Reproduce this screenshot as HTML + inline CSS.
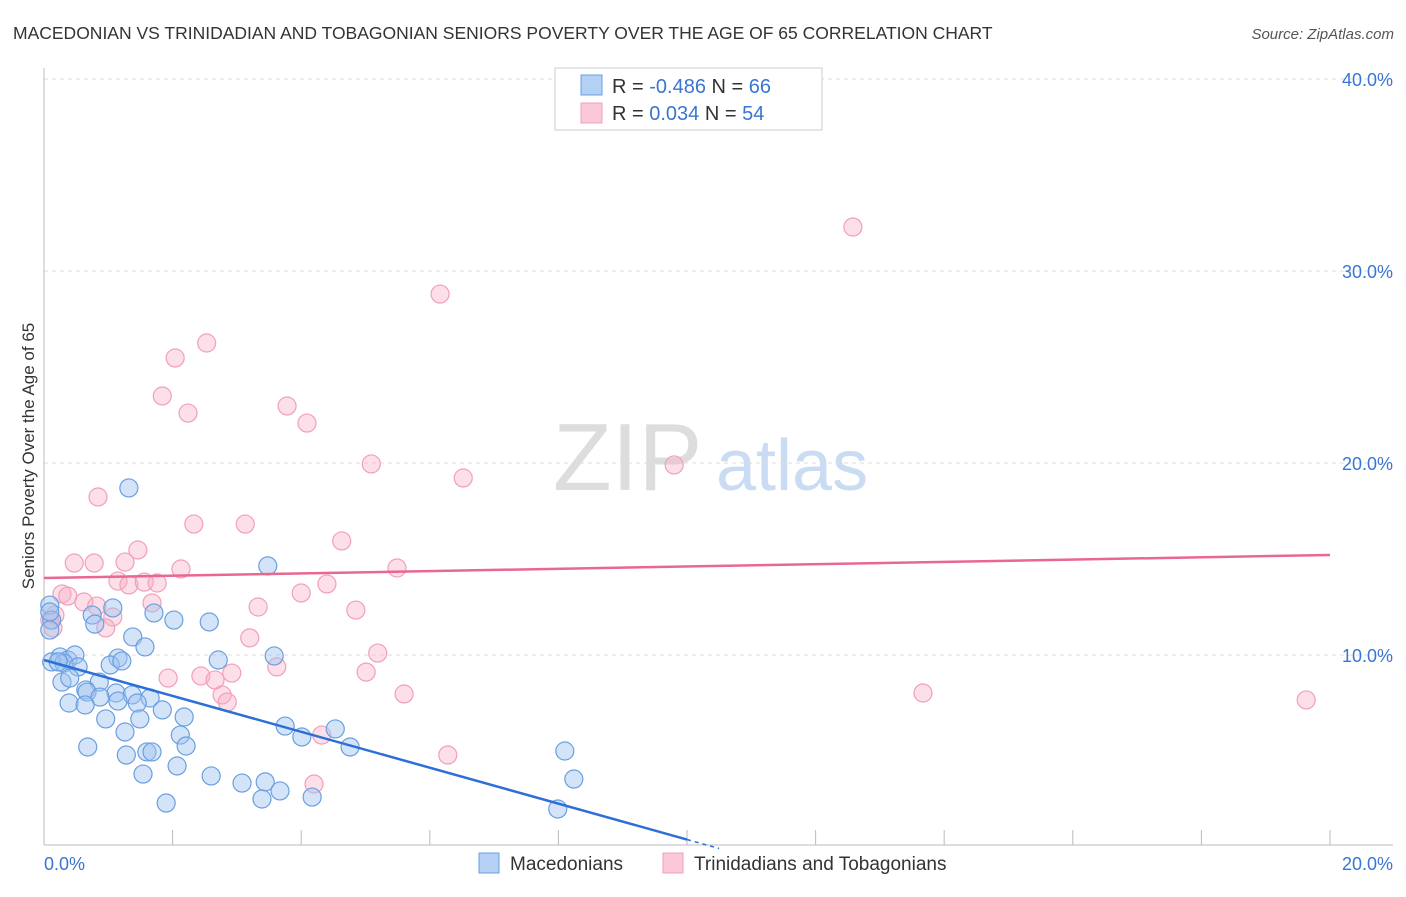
<!DOCTYPE html>
<html><head><meta charset="utf-8"><style>
body{margin:0;background:#fff;font-family:"Liberation Sans",sans-serif;}
svg text{font-family:"Liberation Sans",sans-serif;}
</style></head><body>
<svg id="chart" width="1406" height="892" viewBox="0 0 1406 892" xmlns="http://www.w3.org/2000/svg">
<text x="13" y="39" font-size="17.5" fill="#333">MACEDONIAN VS TRINIDADIAN AND TOBAGONIAN SENIORS POVERTY OVER THE AGE OF 65 CORRELATION CHART</text>
<text x="1394" y="39" font-size="15" fill="#555" font-style="italic" text-anchor="end">Source: ZipAtlas.com</text>
<g>
<text x="553" y="490" font-size="96" fill="#ddd" font-family="Liberation Serif">ZIP</text>
<text x="716" y="490" font-size="72" fill="#c9dcf3">atlas</text>
</g>
<g id="grid"></g>
<g id="axes"></g>
<g id="marks"></g>
<text transform="translate(34,456) rotate(-90)" font-size="17" fill="#333" text-anchor="middle">Seniors Poverty Over the Age of 65</text>
<g>
<rect x="555" y="68" width="267" height="62" fill="#fff" stroke="#ccc"/>
<rect x="581" y="75" width="21" height="20" fill="#b4d0f5" stroke="#6a9fe0"/>
<rect x="581" y="103" width="21" height="20" fill="#fbc8d8" stroke="#f0a0b8"/>
<text x="612" y="93" font-size="20" fill="#333">R = <tspan fill="#3a75d0">-0.486</tspan>   N = <tspan fill="#3a75d0">66</tspan></text>
<text x="612" y="120" font-size="20" fill="#333">R =  <tspan fill="#3a75d0"> 0.034</tspan>   N = <tspan fill="#3a75d0">54</tspan></text>
</g>
<g>
<rect x="479" y="853" width="20" height="20" fill="#b4d0f5" stroke="#6a9fe0"/>
<text x="510" y="870" font-size="19" fill="#333">Macedonians</text>
<rect x="663" y="853" width="20" height="20" fill="#fbc8d8" stroke="#f0a0b8"/>
<text x="694" y="870" font-size="19" fill="#333">Trinidadians and Tobagonians</text>
</g>
</svg>
<script>
const blueX=[1.32,3.48,0.09,0.12,0.09,1.07,0.75,0.79,1.71,2.02,2.57,1.38,1.57,0.25,0.37,0.48,0.12,0.31,0.53,1.15,1.03,1.21,2.71,3.58,0.28,0.40,0.86,0.65,1.12,0.67,0.87,1.37,1.65,0.39,0.64,1.15,1.45,1.84,0.96,1.49,2.18,1.26,2.12,3.75,4.53,4.01,0.68,1.28,1.60,1.68,2.21,4.76,8.10,1.54,2.07,2.60,3.08,3.44,3.67,3.39,4.17,1.90,8.24,7.99,0.09,0.22];
const blueY=[18.70,14.64,12.60,11.82,11.30,12.45,12.08,11.61,12.19,11.82,11.72,10.94,10.42,9.90,9.74,10.00,9.64,9.58,9.38,9.84,9.48,9.69,9.74,9.95,8.59,8.80,8.59,8.18,8.02,8.07,7.81,7.92,7.76,7.50,7.40,7.60,7.50,7.14,6.67,6.67,6.77,5.99,5.83,6.30,6.15,5.73,5.21,4.79,4.95,4.95,5.26,5.21,5.00,3.80,4.22,3.70,3.33,3.39,2.92,2.50,2.60,2.29,3.54,1.98,12.24,9.64];
const pinkX=[12.58,6.16,2.53,2.04,1.84,3.78,2.24,4.09,5.09,6.52,9.80,0.84,2.33,3.13,4.63,1.46,0.47,0.78,1.26,2.13,5.49,1.15,1.32,1.56,1.76,4.40,0.28,0.37,0.62,0.82,1.68,3.33,4.00,4.85,0.09,0.17,0.14,1.07,0.96,3.20,5.19,3.62,1.93,2.44,2.66,2.92,2.77,2.85,5.01,5.60,13.67,19.63,4.32,6.28,4.20];
const pinkY=[32.29,28.80,26.25,25.47,23.49,22.97,22.60,22.08,19.95,19.22,19.90,18.23,16.82,16.82,15.94,15.47,14.79,14.79,14.84,14.48,14.53,13.85,13.65,13.80,13.75,13.70,13.18,13.07,12.76,12.55,12.71,12.50,13.23,12.34,11.82,12.08,11.41,11.98,11.41,10.89,10.10,9.38,8.80,8.91,8.70,9.06,7.92,7.55,9.11,7.97,8.02,7.66,5.83,4.79,3.28];
const blueTrend=[9.74,-0.0487];
const pinkTrend=[14.01,0.06];
const yTicks=[10,20,30,40];
const yTickLabels=["10.0%","20.0%","30.0%","40.0%"];
const xTicks=[0,2,4,6,8,10,12,14,16,18,20];

const NS="http://www.w3.org/2000/svg";
const sx=v=>44+v*64.3, sy=v=>847-v*19.2;
function mk(tag,attrs,parent){const e=document.createElementNS(NS,tag);for(const k in attrs)e.setAttribute(k,attrs[k]);document.getElementById(parent).appendChild(e);return e;}
yTicks.forEach((t,i)=>{
 const g=mk('line',{x1:44,x2:1393,y1:sy(t),y2:sy(t),stroke:'#ddd','stroke-dasharray':'4,4'},'grid');
 
 
 const l=mk('text',{x:1393,y:sy(t)+7,'font-size':18,fill:'#3a75d0','text-anchor':'end'},'axes');
 l.textContent=yTickLabels[i];
 
 
});
const ya=mk('line',{x1:44,x2:44,y1:68,y2:845,stroke:'#bbb'},'axes');


const xa=mk('line',{x1:44,x2:1393,y1:845,y2:845,stroke:'#bbb'},'axes');


xTicks.forEach(t=>{
 const k=mk('line',{x1:sx(t),x2:sx(t),y1:830,y2:845,stroke:'#bbb'},'axes');
 
 
});
const x0=mk('text',{x:44,y:870,'font-size':18,fill:'#3a75d0'},'axes');x0.textContent='0.0%';


const x1=mk('text',{x:1393,y:870,'font-size':18,fill:'#3a75d0','text-anchor':'end'},'axes');x1.textContent='20.0%';


pinkX.forEach((x,i)=>{
 const c=mk('circle',{cx:sx(x),cy:sy(pinkY[i]),r:9,fill:'rgba(248,175,198,0.4)',stroke:'#f0a0b8','stroke-width':1.2},'marks');
 
 
});
blueX.forEach((x,i)=>{
 const c=mk('circle',{cx:sx(x),cy:sy(blueY[i]),r:9,fill:'rgba(160,196,240,0.45)',stroke:'#6a9fe0','stroke-width':1.2},'marks');
 
 
});
const pt=mk('line',{x1:sx(0),y1:sy(pinkTrend[0]),x2:sx(20),y2:sy(pinkTrend[0]+pinkTrend[1]*20),stroke:'#e8688f','stroke-width':2.5},'marks');


const xEnd=-blueTrend[0]/blueTrend[1]*0.94;
const bt=mk('line',{x1:sx(0),y1:sy(blueTrend[0]),x2:sx(10),y2:sy(blueTrend[0]+blueTrend[1]*10*64.3/64.3*1)+0,stroke:'#2d6fd6','stroke-width':2.5},'marks');
bt.setAttribute('x2',sx(10));
bt.setAttribute('y2',sy(blueTrend[0]+blueTrend[1]*10*19.2));


const bd=mk('line',{x1:sx(10),y1:sy(blueTrend[0]+blueTrend[1]*10*19.2),x2:sx(10.5),y2:sy(blueTrend[0]+blueTrend[1]*10.5*19.2),stroke:'#2d6fd6','stroke-width':1.5,'stroke-dasharray':'4,4'},'marks');


</script>
</body></html>
